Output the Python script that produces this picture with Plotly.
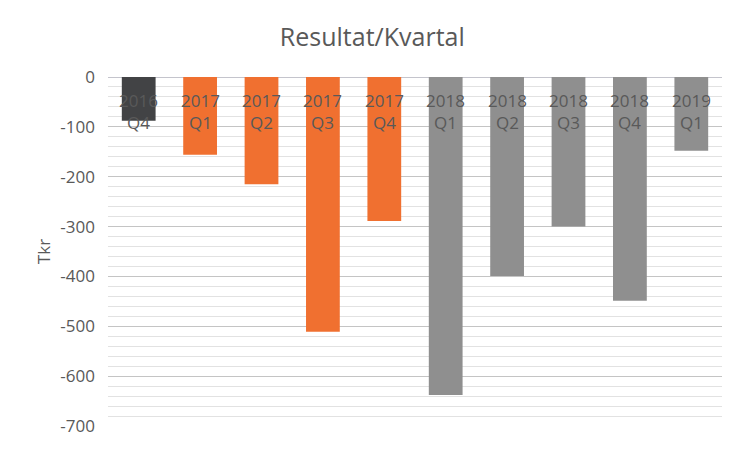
import plotly.graph_objects as go

# Kvartal i rezultat (Tkr)
kvartal = ["2016 Q4", "2017 Q1", "2017 Q2", "2017 Q3", "2017 Q4",
           "2018 Q1", "2018 Q2", "2018 Q3", "2018 Q4", "2019 Q1"]
resultat = [-88, -156, -215, -511, -289, -638, -399, -300, -449, -148]
farger = ["#424345"] + ["#F07030"] * 4 + ["#8F8F8F"] * 5

y_ticks = [0, -100, -200, -300, -400, -500, -600, -700]
y_tick_text = ["0", "-100", "-200", "-300", "-400", "-500", "-600", "-700"]

fig = go.Figure(go.Bar(
    x=kvartal,
    y=resultat,
    marker_color=farger,
    marker_line_width=0,
    hoverinfo="x+y",
))

# kategorietiketter ligger i toppen, ved nullinjen (som i Excel)
for k in kvartal:
    fig.add_annotation(
        x=k, y=0, text=k.replace(" ", "<br>"),
        showarrow=False, yanchor="top", yshift=-10,
        font=dict(size=17, color="#595959"),
    )

fig.update_layout(
    title=dict(text="Resultat/Kvartal", x=0.489, xanchor="center", y=0.936, yanchor="middle",
               font=dict(size=25, color="#595959")),
    font=dict(family="Open Sans, Lato, sans-serif", color="#595959"),
    width=745,
    height=450,
    margin=dict(t=69, b=32, l=100, r=31),
    plot_bgcolor="white",
    paper_bgcolor="white",
    bargap=0.45,
    showlegend=False,
    xaxis=dict(
        showticklabels=False,
        showgrid=False,
        showline=False,
        ticks="",
        automargin=False,
    ),
    yaxis=dict(
        title=dict(text="Tkr", font=dict(size=17, color="#595959"), standoff=5),
        range=[-700, 0],
        tickvals=y_ticks,
        ticktext=y_tick_text,
        tickfont=dict(size=17, color="#595959"),
        gridcolor="#C4C4C4",
        gridwidth=1,
        zeroline=True,
        zerolinecolor="#C4C4CC",
        zerolinewidth=1,
        minor=dict(dtick=20, showgrid=True, gridcolor="#E2E2E2", gridwidth=1),
        ticklabelstandoff=12,
        automargin=False,
    ),
)

fig.write_html("out.html")
